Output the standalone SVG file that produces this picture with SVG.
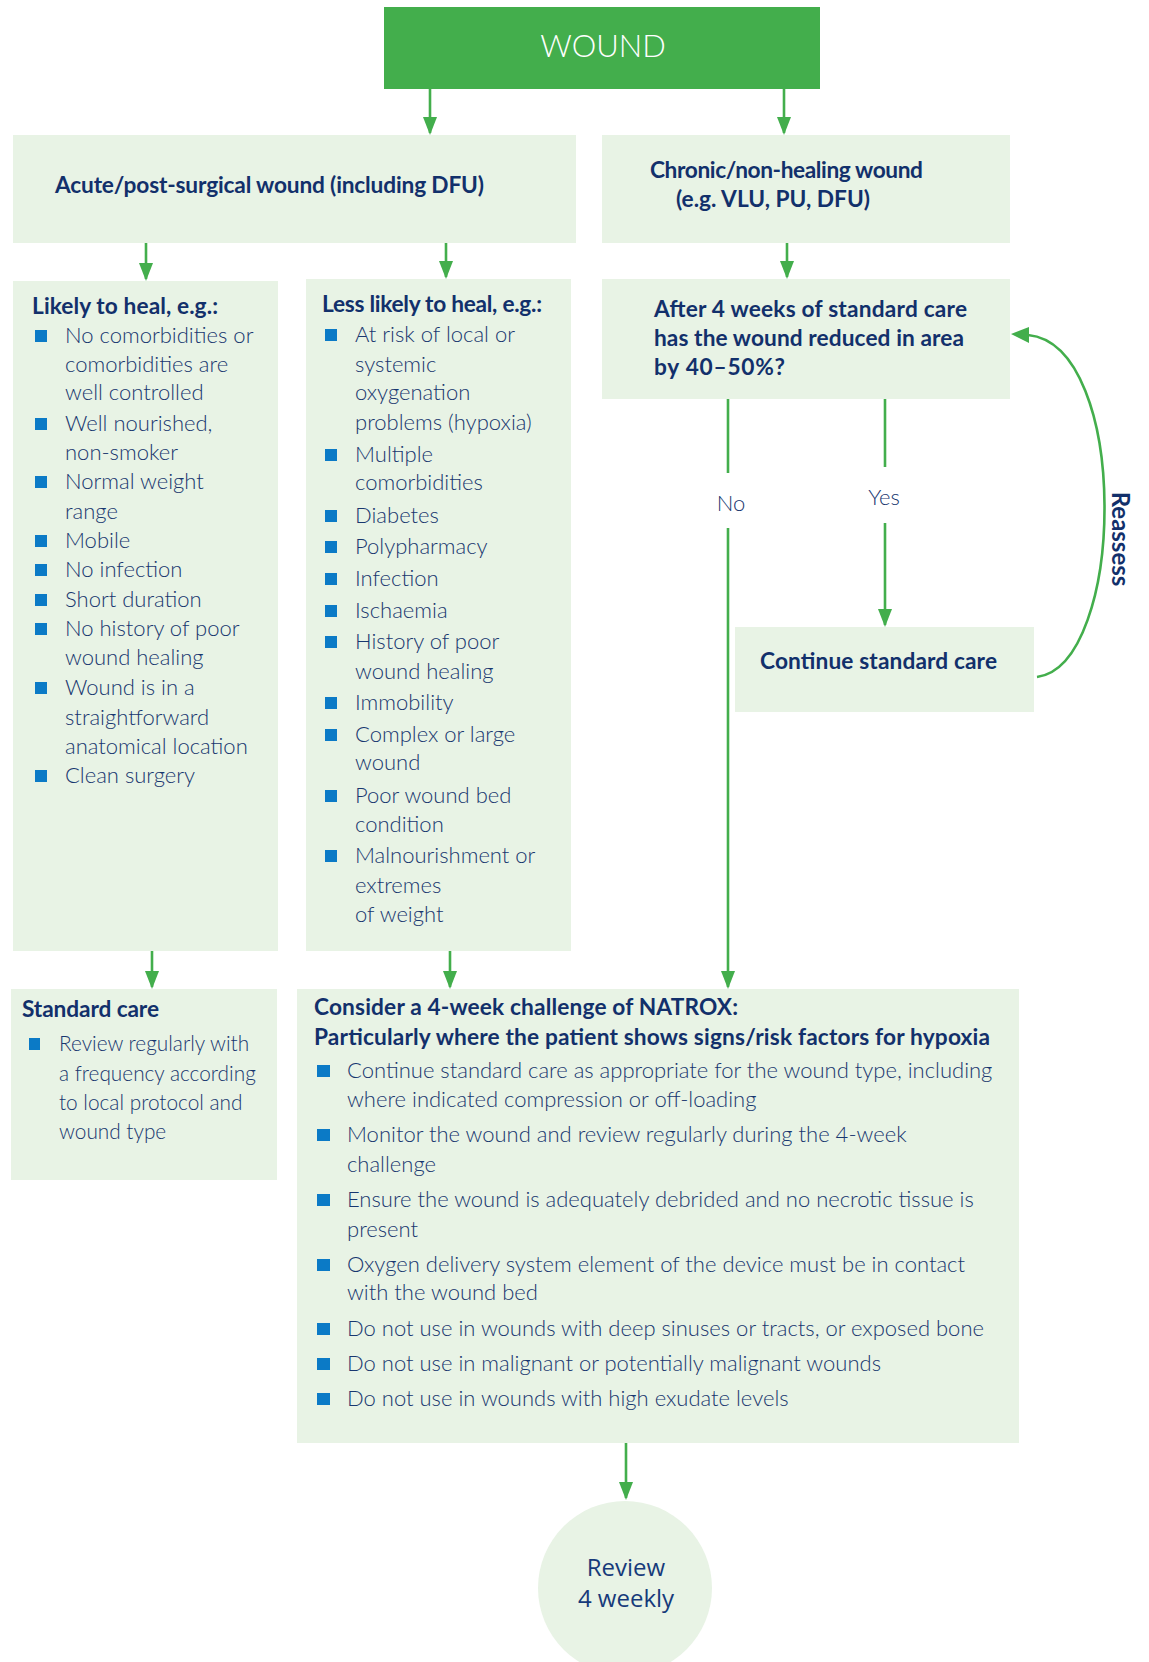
<svg xmlns="http://www.w3.org/2000/svg" width="1149" height="1662" viewBox="0 0 1149 1662">
<defs>
<style>
.box{fill:#E8F3E5}
.main{fill:#43AE4C}
.h{font-family:Lato,"Liberation Sans",sans-serif;font-weight:700;font-size:22.7px;fill:#12306B}
.t{font-family:Lato,"Liberation Sans",sans-serif;font-weight:300;font-size:22px;fill:#18376F}
.s{font-size:20.8px}
.b{fill:#0B7AC6}
.c{fill:none;stroke:#43AE4C;stroke-width:2.6}
.a{fill:#43AE4C}
</style>
</defs>
<rect width="1149" height="1662" fill="#FFFFFF"/>

<g id="connectors">
<path class="c" d="M430,89 V133"/>
<path class="a" d="M423,117 L437,117 L430,135 Z"/>
<path class="c" d="M784,89 V133"/>
<path class="a" d="M777,117 L791,117 L784,135 Z"/>
<path class="c" d="M146,243 V279"/>
<path class="a" d="M139,263 L153,263 L146,281 Z"/>
<path class="c" d="M446,243 V277"/>
<path class="a" d="M439,261 L453,261 L446,279 Z"/>
<path class="c" d="M787,243 V277"/>
<path class="a" d="M780,261 L794,261 L787,279 Z"/>
<path class="c" d="M152,951 V987"/>
<path class="a" d="M145,971 L159,971 L152,989 Z"/>
<path class="c" d="M450,951 V987"/>
<path class="a" d="M443,971 L457,971 L450,989 Z"/>
<path class="c" d="M728,399 V473 M728,528 V987"/>
<path class="a" d="M721,971 L735,971 L728,989 Z"/>
<path class="c" d="M885,399 V467 M885,523 V625"/>
<path class="a" d="M878,609 L892,609 L885,627 Z"/>
<path class="c" d="M626,1443 V1498"/>
<path class="a" d="M619,1482 L633,1482 L626,1500 Z"/>
<path class="c" d="M1037,677 C1126,665 1131,345 1028,335"/>
<path class="a" d="M1029,327 L1029,343 L1011,334 Z"/>
<text class="t" x="731" y="511" text-anchor="middle">No</text>
<text class="t" x="884" y="505" text-anchor="middle">Yes</text>
<text class="h" transform="translate(1112,539) rotate(90)" text-anchor="middle" style="font-size:24px">Reassess</text>
</g>

<g id="wound">
<rect class="main" x="384" y="7" width="436" height="82"/>
<text x="603" y="57" text-anchor="middle" font-family="Lato,'Liberation Sans',sans-serif" font-weight="300" font-size="31" fill="#FFFFFF">WOUND</text>
</g>

<g id="acute">
<rect class="box" x="13" y="135" width="563" height="108"/>
<text class="h" x="55" y="193" textLength="429">Acute/post-surgical wound (including DFU)</text>
</g>

<g id="chronic">
<rect class="box" x="602" y="135" width="408" height="108"/>
<text class="h" x="650" y="178" textLength="273">Chronic/non-healing wound</text>
<text class="h" x="676" y="207" textLength="194">(e.g. VLU, PU, DFU)</text>
</g>

<g id="likely">
<rect class="box" x="13" y="281" width="265" height="670"/>
<text class="h" x="32" y="314" textLength="186">Likely to heal, e.g.:</text>
<rect class="b" x="35" y="330" width="12" height="12"/>
<text class="t" x="65" y="343">No comorbidities or</text>
<text class="t" x="65" y="372">comorbidities are</text>
<text class="t" x="65" y="400">well controlled</text>
<rect class="b" x="35" y="418" width="12" height="12"/>
<text class="t" x="65" y="431">Well nourished,</text>
<text class="t" x="65" y="460">non-smoker</text>
<rect class="b" x="35" y="476" width="12" height="12"/>
<text class="t" x="65" y="489">Normal weight</text>
<text class="t" x="65" y="519">range</text>
<rect class="b" x="35" y="535" width="12" height="12"/>
<text class="t" x="65" y="548">Mobile</text>
<rect class="b" x="35" y="564" width="12" height="12"/>
<text class="t" x="65" y="577">No infection</text>
<rect class="b" x="35" y="594" width="12" height="12"/>
<text class="t" x="65" y="607">Short duration</text>
<rect class="b" x="35" y="623" width="12" height="12"/>
<text class="t" x="65" y="636">No history of poor</text>
<text class="t" x="65" y="665">wound healing</text>
<rect class="b" x="35" y="682" width="12" height="12"/>
<text class="t" x="65" y="695">Wound is in a</text>
<text class="t" x="65" y="725">straightforward</text>
<text class="t" x="65" y="754">anatomical location</text>
<rect class="b" x="35" y="770" width="12" height="12"/>
<text class="t" x="65" y="783">Clean surgery</text>
</g>

<g id="less-likely">
<rect class="box" x="306" y="279" width="265" height="672"/>
<text class="h" x="322" y="312" textLength="220">Less likely to heal, e.g.:</text>
<rect class="b" x="325" y="329" width="12" height="12"/>
<text class="t" x="355" y="342">At risk of local or</text>
<text class="t" x="355" y="372">systemic</text>
<text class="t" x="355" y="400">oxygenation</text>
<text class="t" x="355" y="430">problems (hypoxia)</text>
<rect class="b" x="325" y="449" width="12" height="12"/>
<text class="t" x="355" y="462">Multiple</text>
<text class="t" x="355" y="490">comorbidities</text>
<rect class="b" x="325" y="510" width="12" height="12"/>
<text class="t" x="355" y="523">Diabetes</text>
<rect class="b" x="325" y="541" width="12" height="12"/>
<text class="t" x="355" y="554">Polypharmacy</text>
<rect class="b" x="325" y="573" width="12" height="12"/>
<text class="t" x="355" y="586">Infection</text>
<rect class="b" x="325" y="605" width="12" height="12"/>
<text class="t" x="355" y="618">Ischaemia</text>
<rect class="b" x="325" y="636" width="12" height="12"/>
<text class="t" x="355" y="649">History of poor</text>
<text class="t" x="355" y="679">wound healing</text>
<rect class="b" x="325" y="697" width="12" height="12"/>
<text class="t" x="355" y="710">Immobility</text>
<rect class="b" x="325" y="729" width="12" height="12"/>
<text class="t" x="355" y="742">Complex or large</text>
<text class="t" x="355" y="770">wound</text>
<rect class="b" x="325" y="790" width="12" height="12"/>
<text class="t" x="355" y="803">Poor wound bed</text>
<text class="t" x="355" y="832">condition</text>
<rect class="b" x="325" y="850" width="12" height="12"/>
<text class="t" x="355" y="863">Malnourishment or</text>
<text class="t" x="355" y="893">extremes</text>
<text class="t" x="355" y="922">of weight</text>
</g>

<g id="after-4-weeks">
<rect class="box" x="602" y="279" width="408" height="120"/>
<text class="h" x="654" y="317" textLength="313">After 4 weeks of standard care</text>
<text class="h" x="654" y="346" textLength="310">has the wound reduced in area</text>
<text class="h" x="654" y="375" textLength="131">by 40–50%?</text>
</g>

<g id="continue">
<rect class="box" x="735" y="627" width="299" height="85"/>
<text class="h" x="760" y="669" textLength="237">Continue standard care</text>
</g>

<g id="standard-care">
<rect class="box" x="11" y="989" width="266" height="191"/>
<text class="h" x="22" y="1017" textLength="137">Standard care</text>
<rect class="b" x="29" y="1038" width="11" height="12"/>
<text class="t s" x="59" y="1051">Review regularly with</text>
<text class="t s" x="59" y="1081">a frequency according</text>
<text class="t s" x="59" y="1110">to local protocol and</text>
<text class="t s" x="59" y="1139">wound type</text>
</g>

<g id="natrox">
<rect class="box" x="297" y="989" width="722" height="454"/>
<text class="h" x="314" y="1015" textLength="424">Consider a 4-week challenge of NATROX:</text>
<text class="h" x="314" y="1045" textLength="676">Particularly where the patient shows signs/risk factors for hypoxia</text>
<rect class="b" x="317" y="1065" width="13" height="12"/>
<text class="t" x="347" y="1078">Continue standard care as appropriate for the wound type, including</text>
<text class="t" x="347" y="1107">where indicated compression or off-loading</text>
<rect class="b" x="317" y="1129" width="13" height="12"/>
<text class="t" x="347" y="1142">Monitor the wound and review regularly during the 4-week</text>
<text class="t" x="347" y="1172">challenge</text>
<rect class="b" x="317" y="1194" width="13" height="12"/>
<text class="t" x="347" y="1207">Ensure the wound is adequately debrided and no necrotic tissue is</text>
<text class="t" x="347" y="1237">present</text>
<rect class="b" x="317" y="1259" width="13" height="12"/>
<text class="t" x="347" y="1272">Oxygen delivery system element of the device must be in contact</text>
<text class="t" x="347" y="1300">with the wound bed</text>
<rect class="b" x="317" y="1323" width="13" height="12"/>
<text class="t" x="347" y="1336">Do not use in wounds with deep sinuses or tracts, or exposed bone</text>
<rect class="b" x="317" y="1358" width="13" height="12"/>
<text class="t" x="347" y="1371">Do not use in malignant or potentially malignant wounds</text>
<rect class="b" x="317" y="1393" width="13" height="12"/>
<text class="t" x="347" y="1406">Do not use in wounds with high exudate levels</text>
</g>

<g id="review">
<circle class="box" cx="625" cy="1588" r="87"/>
<text x="626" y="1576" text-anchor="middle" font-family="'Open Sans','Noto Sans',sans-serif" font-size="24" fill="#163A7A">Review</text>
<text x="626" y="1607" text-anchor="middle" font-family="'Open Sans','Noto Sans',sans-serif" font-size="24" fill="#163A7A">4 weekly</text>
</g>
</svg>
